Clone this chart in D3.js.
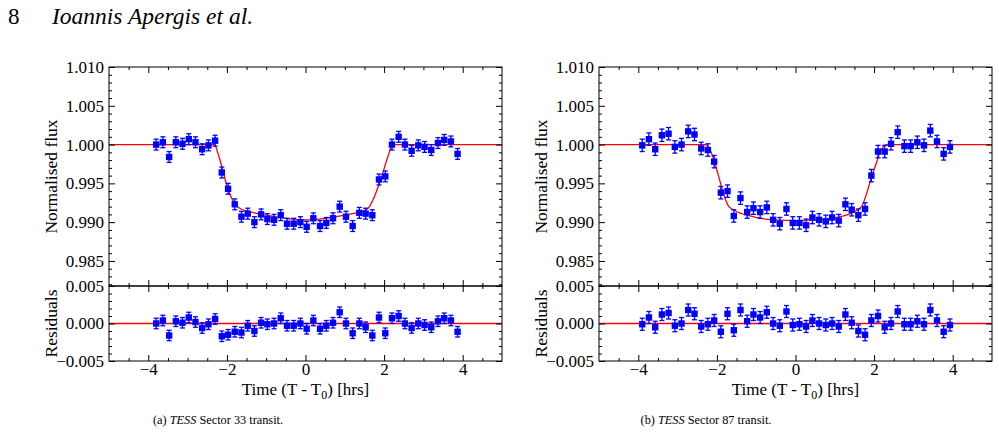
<!DOCTYPE html>
<html>
<head>
<meta charset="utf-8">
<script src="https://cdn.jsdelivr.net/npm/d3@7"></script>
<style>
  body { margin: 0; background: #fff; }
  svg, svg text { font-family: "Liberation Serif", "Times New Roman", Times, "DejaVu Serif", serif; fill: #000; }
  .tick text { font-size: 17px; }
</style>
</head>
<body>
<svg id="fig" width="999" height="440" font-family="Liberation Serif, Times New Roman, serif"></svg>
<script>
// ---- data ----
// (a) TESS Sector 33
const leftTime = [-3.80, -3.63, -3.47, -3.30, -3.13, -2.97, -2.80, -2.63, -2.47, -2.30,
  -2.13, -1.97, -1.80, -1.63, -1.47, -1.30, -1.13, -0.97, -0.80, -0.63,
  -0.47, -0.30, -0.13, 0.03, 0.20, 0.37, 0.53, 0.70, 0.87, 1.03,
  1.20, 1.37, 1.53, 1.70, 1.87, 2.03, 2.20, 2.37, 2.53, 2.70,
  2.87, 3.03, 3.20, 3.37, 3.53, 3.70, 3.87];
const leftFlux = [1.0000, 1.0003, 0.9984, 1.0003, 1.0001, 1.0007, 1.0003, 0.9994, 0.9999, 1.0005,
  0.9964, 0.9943, 0.9923, 0.9907, 0.9911, 0.9900, 0.9910, 0.9904, 0.9903, 0.9909,
  0.9898, 0.9898, 0.9900, 0.9894, 0.9905, 0.9895, 0.9899, 0.9905, 0.9920, 0.9907,
  0.9895, 0.9912, 0.9911, 0.9909, 0.9955, 0.9959, 1.0000, 1.0010, 1.0000, 0.9992,
  0.9999, 0.9997, 0.9993, 1.0002, 1.0006, 1.0004, 0.9988];
const leftResid = [0.0000, 0.0004, -0.0016, 0.0003, 0.0001, 0.0008, 0.0002, -0.0006, -0.0001, 0.0006,
  -0.0017, -0.0015, -0.0011, -0.0012, -0.0003, -0.0010, 0.0001, -0.0001, 0.0000, 0.0007,
  -0.0003, -0.0003, 0.0000, -0.0007, 0.0004, -0.0007, -0.0003, 0.0001, 0.0015, 0.0000,
  -0.0013, 0.0000, -0.0005, -0.0016, 0.0008, -0.0013, 0.0007, 0.0010, 0.0000, -0.0006,
  0.0000, -0.0002, -0.0005, 0.0003, 0.0007, 0.0004, -0.0011];
const leftModelTime = [-5, -2.32, -2.2, -2.1, -2.0, -1.9, -1.8, -1.73, -1.6, -1.3, -1.0, -0.5, 0,
  0.5, 1.0, 1.3, 1.5, 1.63, 1.7, 1.8, 1.9, 2.0, 2.1, 2.22, 5];
const leftModelFlux = [1.0000, 1.0000, 0.9984, 0.9966, 0.9947, 0.9933, 0.9924, 0.9920, 0.9916, 0.9912, 0.9909, 0.9905, 0.9903,
  0.9905, 0.9909, 0.9912, 0.9915, 0.9920, 0.9927, 0.9939, 0.9953, 0.9969, 0.9985, 1.0000, 1.0000];
const leftErr = 0.0007;

// (b) TESS Sector 87
const rightTime = [-3.90, -3.73, -3.57, -3.40, -3.23, -3.07, -2.90, -2.73, -2.57, -2.40,
  -2.23, -2.07, -1.90, -1.73, -1.57, -1.40, -1.23, -1.07, -0.90, -0.73,
  -0.57, -0.40, -0.23, -0.07, 0.10, 0.27, 0.43, 0.60, 0.77, 0.93,
  1.10, 1.27, 1.43, 1.60, 1.77, 1.93, 2.10, 2.27, 2.43, 2.60,
  2.77, 2.93, 3.10, 3.27, 3.43, 3.60, 3.77, 3.93];
const rightFlux = [0.9999, 1.0007, 0.9994, 1.0012, 1.0014, 0.9997, 1.0000, 1.0017, 1.0013, 0.9995,
  0.9993, 0.9978, 0.9938, 0.9940, 0.9908, 0.9931, 0.9913, 0.9918, 0.9913, 0.9919,
  0.9903, 0.9898, 0.9917, 0.9899, 0.9899, 0.9896, 0.9906, 0.9903, 0.9901, 0.9906,
  0.9902, 0.9923, 0.9916, 0.9909, 0.9917, 0.9960, 0.9991, 0.9991, 1.0001, 1.0016,
  0.9998, 0.9998, 1.0003, 0.9999, 1.0018, 1.0004, 0.9988, 0.9997];
const rightResid = [-0.0001, 0.0008, -0.0005, 0.0012, 0.0014, -0.0003, 0.0000, 0.0018, 0.0013, -0.0004,
  -0.0001, 0.0004, -0.0011, 0.0013, -0.0009, 0.0018, 0.0003, 0.0012, 0.0008, 0.0015,
  0.0000, -0.0003, 0.0016, -0.0002, -0.0001, -0.0004, 0.0004, 0.0000, -0.0002, 0.0000,
  -0.0004, 0.0012, 0.0001, -0.0010, -0.0015, 0.0004, 0.0010, -0.0005, 0.0000, 0.0016,
  -0.0001, -0.0001, 0.0003, -0.0001, 0.0018, 0.0004, -0.0011, -0.0002];
const rightModelTime = [-5, -2.3, -2.18, -2.05, -1.95, -1.84, -1.71, -1.55, -1.16, -0.56, 0.03,
  0.54, 1.05, 1.39, 1.68, 1.81, 1.94, 2.05, 2.15, 2.32, 5];
const rightModelFlux = [1.0000, 1.0000, 0.9994, 0.9976, 0.9958, 0.9938, 0.9921, 0.9915, 0.9908, 0.9903, 0.9902,
  0.9903, 0.9906, 0.9911, 0.9920, 0.9937, 0.9959, 0.9975, 0.9990, 1.0000, 1.0000];
const rightErr = 0.0008;

const fluxTicks = [0.985, 0.990, 0.995, 1.000, 1.005, 1.010];
const residTicks = [-0.005, 0.000, 0.005];
const timeTicks = [-4, -2, 0, 2, 4];
const sectors = ["33", "87"];

// ---- drawing ----
const SERIF = '"Liberation Serif", "Times New Roman", Times, serif';
const svg = d3.select("#fig");
const W = 393;
const fluxTop = 67, split = 286, residBottom = 361;

// minor tick positions
const timeMinor = d3.range(-9, 10).map(k => k * 0.5).filter(v => v % 2 !== 0);
const fluxMinor = d3.range(982, 1011).map(k => k / 1000).filter(v => Math.round(v * 1000) % 5 !== 0);
const residMinor = d3.range(-5, 6).map(k => k / 1000).filter(v => Math.round(v * 1000) % 5 !== 0);

function frameTicks(g, x, y, yMaj, yMin, yFmt, showX) {
  const [x0, x1] = x.range();
  const [y0, y1] = y.range(); // bottom, top
  const put = (axis, tx, ty) => {
    const a = g.append("g").attr("transform", `translate(${tx},${ty})`).call(axis);
    a.select(".domain").remove();
    a.attr("font-family", SERIF).attr("font-size", 17);
    return a;
  };
  put(d3.axisLeft(y).tickValues(yMaj).tickSize(-6).tickPadding(5).tickFormat(yFmt), x0, 0);
  put(d3.axisLeft(y).tickValues(yMin).tickSize(-3).tickFormat(""), x0, 0);
  put(d3.axisRight(y).tickValues(yMaj).tickSize(-6).tickFormat(""), x1, 0);
  put(d3.axisRight(y).tickValues(yMin).tickSize(-3).tickFormat(""), x1, 0);
  put(d3.axisTop(x).tickValues(timeTicks).tickSize(-6).tickFormat(""), 0, y1);
  put(d3.axisTop(x).tickValues(timeMinor).tickSize(-3).tickFormat(""), 0, y1);
  put(d3.axisBottom(x).tickValues(timeTicks).tickSize(-6).tickPadding(2)
        .tickFormat(showX ? d3.format("d") : ""), 0, y0);
  put(d3.axisBottom(x).tickValues(timeMinor).tickSize(-3).tickFormat(""), 0, y0);
  g.append("rect").attr("x", x0).attr("y", y1).attr("width", x1 - x0).attr("height", y0 - y1)
    .attr("fill", "none").attr("stroke", "#000").attr("stroke-width", 1);
}

function points(g, x, y, t, v, err) {
  const p = g.append("g").attr("fill", "#0000ff").attr("stroke", "#0000ff");
  const pts = t.map((tt, i) => ({ t: tt, v: v[i] }));
  p.selectAll("line.bar").data(pts).join("line").attr("class", "bar")
    .attr("x1", d => x(d.t)).attr("x2", d => x(d.t))
    .attr("y1", d => y(d.v - err)).attr("y2", d => y(d.v + err)).attr("stroke-width", 1.3);
  [1, -1].forEach(s => {
    p.selectAll("line.cap" + (s > 0 ? "u" : "d")).data(pts).join("line").attr("class", "cap" + (s > 0 ? "u" : "d"))
      .attr("x1", d => x(d.t) - 2.5).attr("x2", d => x(d.t) + 2.5)
      .attr("y1", d => y(d.v + s * err)).attr("y2", d => y(d.v + s * err)).attr("stroke-width", 1.3);
  });
  p.selectAll("rect").data(pts).join("rect")
    .attr("x", d => x(d.t) - 3.2).attr("y", d => y(d.v) - 3.2)
    .attr("width", 6.4).attr("height", 6.4).attr("stroke", "none");
}

function drawPanel(left, id, time, flux, resid, mTime, mFlux, err, letter, sector, capX) {
  const x = d3.scaleLinear().domain([-5, 5]).range([left, left + W]);
  const yF = d3.scaleLinear().domain([0.98177, 1.010]).range([split, fluxTop]);
  const yR = d3.scaleLinear().domain([-0.005, 0.005]).range([residBottom, split]);
  const g = svg.append("g");

  svg.append("clipPath").attr("id", "clip" + id).append("rect")
    .attr("x", left).attr("y", fluxTop).attr("width", W).attr("height", residBottom - fluxTop);

  // model
  const model = mTime.map((t, i) => ({ t, v: mFlux[i] }));
  g.append("path").datum(model)
    .attr("clip-path", `url(#clip${id})`)
    .attr("fill", "none").attr("stroke", "#ff0000").attr("stroke-width", 1.3)
    .attr("d", d3.line().x(d => x(d.t)).y(d => yF(d.v)).curve(d3.curveMonotoneX));
  g.append("line").attr("x1", left).attr("x2", left + W)
    .attr("y1", yR(0)).attr("y2", yR(0))
    .attr("stroke", "#ff0000").attr("stroke-width", 1.3);

  points(g, x, yF, time, flux, err);
  points(g, x, yR, time, resid, err);

  frameTicks(g, x, yF, fluxTicks, fluxMinor, d3.format(".3f"), false);
  frameTicks(g, x, yR, residTicks, residMinor, d3.format(".3f"), true);

  const lx = left - 52;
  g.append("text").attr("transform", `translate(${lx},${(fluxTop + split) / 2}) rotate(-90)`)
    .attr("font-family", SERIF)
    .attr("text-anchor", "middle").attr("font-size", 17.5).text("Normalised flux");
  g.append("text").attr("transform", `translate(${lx},${(split + residBottom) / 2}) rotate(-90)`)
    .attr("font-family", SERIF)
    .attr("text-anchor", "middle").attr("font-size", 17.5).text("Residuals");

  const xl = g.append("text").attr("x", x(0)).attr("y", 395)
    .attr("font-family", SERIF)
    .attr("text-anchor", "middle").attr("font-size", 17);
  xl.append("tspan").text("Time (T - T");
  xl.append("tspan").attr("font-size", 12).attr("dy", 4).text("0");
  xl.append("tspan").attr("dy", -4).text(") [hrs]");

  const cap = g.append("text").attr("x", capX).attr("y", 424)
    .attr("font-family", SERIF)
    .attr("text-anchor", "middle").attr("font-size", 12.3);
  cap.append("tspan").text(`(${letter}) `);
  cap.append("tspan").attr("font-style", "italic").text("TESS");
  cap.append("tspan").text(` Sector ${sector} transit.`);
}

drawPanel(109, "a", leftTime, leftFlux, leftResid, leftModelTime, leftModelFlux, leftErr, "a", sectors[0], 218);
drawPanel(599, "b", rightTime, rightFlux, rightResid, rightModelTime, rightModelFlux, rightErr, "b", sectors[1], 706);

// running header
svg.append("text").attr("x", 8).attr("y", 24).attr("font-family", SERIF).attr("font-size", 23).text("8");
svg.append("text").attr("x", 52).attr("y", 24).attr("font-family", SERIF).attr("font-size", 23.5)
  .attr("font-style", "italic").text("Ioannis Apergis et al.");
</script>
</body>
</html>
